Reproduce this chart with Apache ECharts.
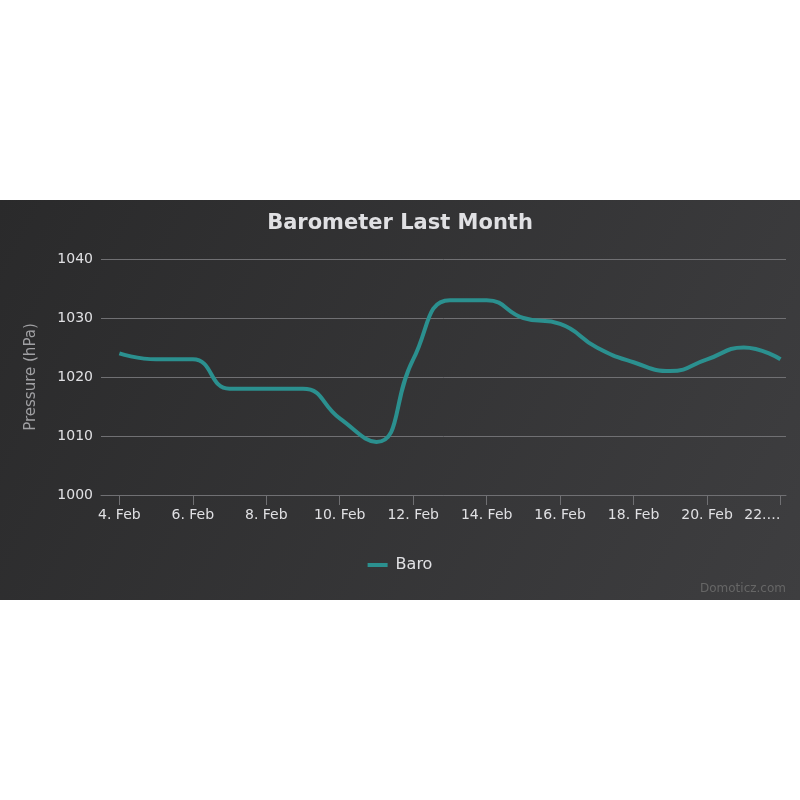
<!DOCTYPE html>
<html>
<head>
<meta charset="utf-8">
<script src="https://cdn.jsdelivr.net/npm/echarts@6/dist/echarts.min.js"></script>
<style>
html,body{margin:0;padding:0;background:#ffffff;}
#chart{position:absolute;left:0;top:200px;width:800px;height:400px;}
</style>
</head>
<body>
<div id="chart"></div>
<script>
var days = [4,5,6,7,8,9,10,11,12,13,14,15,16,17,18,19,20,21,22];
var baro = [1024,1023,1023,1018,1018,1018,1013,1009,1023,1033,1033,1030,1029,1025,1022.5,1021,1023,1025,1023];
var tickDays = [4,6,8,10,12,14,16,18,20,22];
var yTicks = [1000,1010,1020,1030,1040];

var chart = echarts.init(document.getElementById('chart'));
var data = days.map(function(d,i){return [d, baro[i]];});
chart.setOption({
  backgroundColor: new echarts.graphic.LinearGradient(0,0,1,1,[{offset:0,color:'#2a2a2b'},{offset:1,color:'#3e3e40'}]),
  animation:false,
  title:{text:'Barometer Last Month',left:'center',top:8,textStyle:{color:'#E0E0E3',fontFamily:'DejaVu Sans',fontWeight:'bold',fontSize:21}},
  grid:{left:101,right:14,top:59,bottom:105,containLabel:false},
  legend:{data:['Baro'],left:'center',top:352,icon:'rect',itemWidth:20,itemHeight:4,itemGap:8,textStyle:{color:'#E0E0E3',fontFamily:'DejaVu Sans',fontSize:16,padding:[0,0,0,3]}},
  xAxis:{type:'value',min:3.5,max:22.15,
    axisLine:{show:true,lineStyle:{color:'#707073',width:1}},
    axisTick:{show:true,length:10,lineStyle:{color:'#707073'},customValues:tickDays},
    splitLine:{show:false},
    axisLabel:{color:'#E0E0E3',fontFamily:'DejaVu Sans',fontSize:14,margin:13,customValues:tickDays,alignMaxLabel:'right',
      formatter:function(v){return v===22?'22.…':v+'. Feb';}}
  },
  yAxis:{type:'value',min:yTicks[0],max:yTicks[yTicks.length-1],interval:10,
    name:'Pressure (hPa)',nameLocation:'middle',nameGap:62,nameRotate:90,
    nameTextStyle:{color:'#A0A0A3',fontFamily:'DejaVu Sans',fontSize:15},
    axisLine:{show:false},axisTick:{show:false},
    splitLine:{lineStyle:{color:'#707073',width:1}},
    axisLabel:{color:'#E0E0E3',fontFamily:'DejaVu Sans',fontSize:14,margin:8,formatter:function(v){return String(v);}}
  },
  series:[{name:'Baro',type:'line',data:data,smooth:0.5,symbol:'none',
    lineStyle:{color:'#2b908f',width:4},itemStyle:{color:'#2b908f'}}],
  graphic:[{type:'text',right:14,bottom:5,style:{text:'Domoticz.com',fill:'#666666',font:'12px DejaVu Sans'}}]
});
</script>
</body>
</html>
